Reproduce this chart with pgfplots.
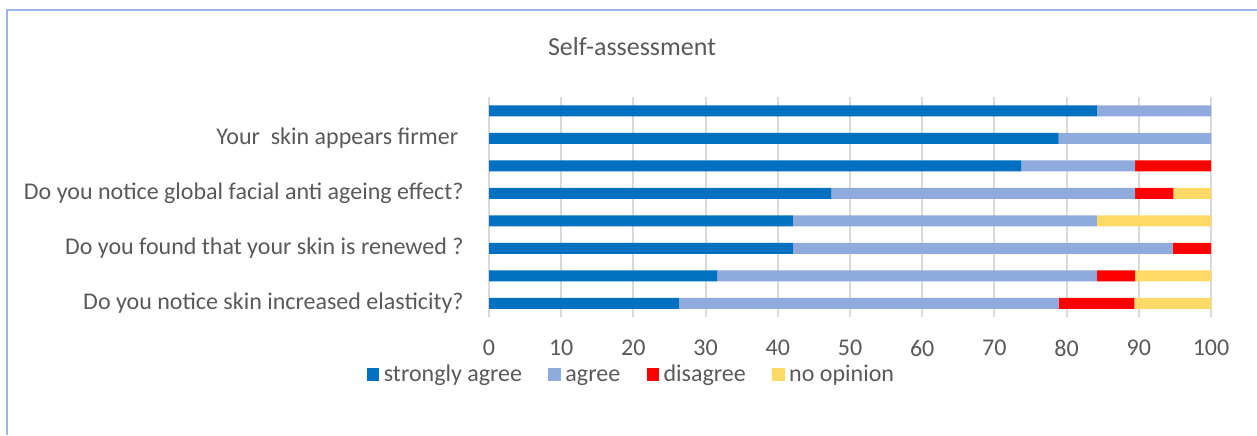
\documentclass[border=0pt]{standalone}
\usepackage{pgfplots}
\pgfplotsset{compat=1.18}
\usepackage{fontspec}
\setmainfont{Carlito}
\definecolor{sagree}{HTML}{0070C0}
\definecolor{agree}{HTML}{8FAADC}
\definecolor{disagree}{HTML}{FF0000}
\definecolor{noop}{HTML}{FFD966}
\definecolor{txt}{HTML}{595959}
\definecolor{gridc}{HTML}{D9D9D9}
\definecolor{framec}{HTML}{9DB5E3}
\begin{document}
\begin{tikzpicture}
\path[use as bounding box] (0pt,0pt) rectangle (628.5pt,217.5pt);
\draw[framec, line width=1pt] (3.5pt,0pt) -- (3.5pt,212.5pt) -- (628.5pt,212.5pt);
\node[text=txt, font=\fontsize{13}{15}\selectfont] at (316pt,194pt) {Self-assessment};
\begin{axis}[
  at={(244.5pt,59pt)}, anchor=south west,
  scale only axis, width=361pt, height=110pt,
  xbar stacked, bar width=5.5pt,
  xmin=0, xmax=100, ymin=0.5, ymax=8.5,
  y dir=reverse,
  xtick={0,10,...,100},
  ytick={2,4,6,8},
  yticklabels={{Your\ \ skin appears firmer\hspace*{2.7pt}},
               {Do you notice global facial anti ageing effect?},
               {Do you found that your skin is renewed ?},
               {Do you notice skin increased elasticity?}},
  major tick length=0pt,
  xmajorgrids, grid style={gridc, line width=1pt},
  x axis line style={draw=none},
  y axis line style={gridc, line width=1pt},
  ticklabel style={text=txt, font=\fontsize{12}{14}\selectfont},
  /pgf/number format/assume math mode=true,
  xticklabel style={anchor=center, yshift=-15.5pt},
  yticklabel style={anchor=east, inner sep=0pt, xshift=-12.5pt},
  legend style={draw=none, fill=none, at={(0.199,-0.268)}, anchor=center,
    font=\fontsize{12}{14}\selectfont, text=txt, legend columns=4,
    /tikz/every even column/.append style={column sep=11pt},
    nodes={inner sep=2.2pt, text height=8pt, text depth=2.5pt}},
  legend image code/.code={\fill[#1] (0pt,-2.75pt) rectangle (6.3pt,3.75pt);},
]
\addplot[fill=sagree, draw=none] coordinates {(84.2,1) (78.9,2) (73.7,3) (47.4,4) (42.1,5) (42.1,6) (31.6,7) (26.3,8)};
\addplot[fill=agree, draw=none] coordinates {(15.8,1) (21.1,2) (15.8,3) (42.1,4) (42.1,5) (52.6,6) (52.6,7) (52.6,8)};
\addplot[fill=disagree, draw=none] coordinates {(0,1) (0,2) (10.5,3) (5.3,4) (0,5) (5.3,6) (5.3,7) (10.5,8)};
\addplot[fill=noop, draw=none] coordinates {(0,1) (0,2) (0,3) (5.2,4) (15.8,5) (0,6) (10.5,7) (10.6,8)};
\legend{strongly agree, agree, disagree, no opinion}
\end{axis}
\end{tikzpicture}
\end{document}
